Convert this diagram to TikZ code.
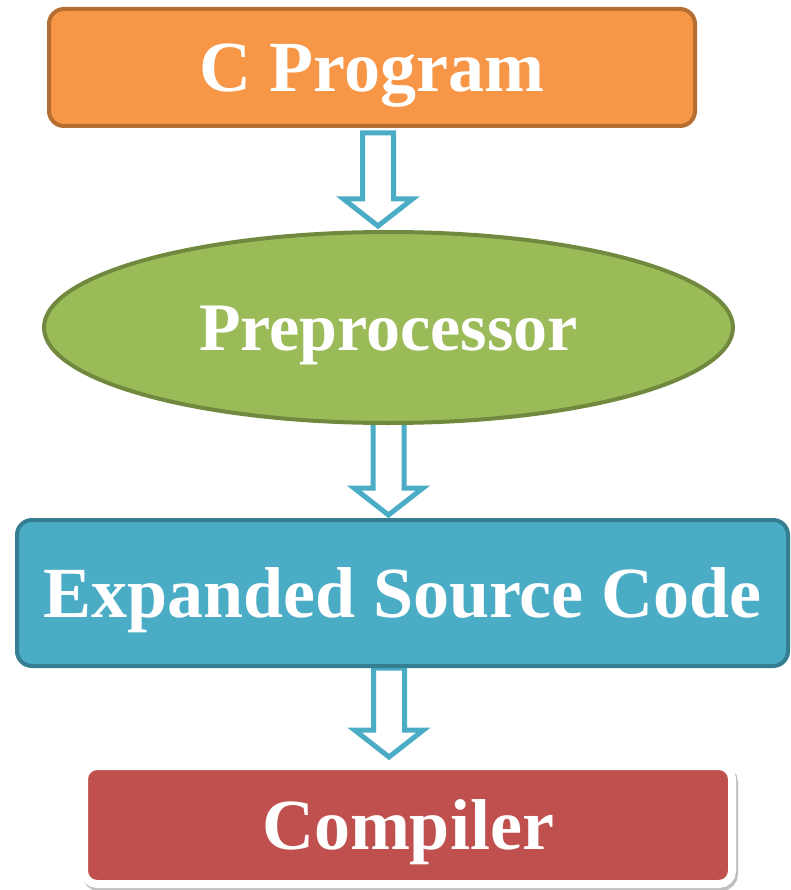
\documentclass[tikz,border=0pt]{standalone}
\usepackage{fontspec}
\setmainfont{Liberation Serif}
\usetikzlibrary{calc,positioning,shapes.geometric,shadows,backgrounds}

\definecolor{progfill}{HTML}{F79646}
\definecolor{progline}{HTML}{B66D31}
\definecolor{prefill}{HTML}{9BBB59}
\definecolor{preline}{HTML}{71893F}
\definecolor{expfill}{HTML}{4BACC6}
\definecolor{expline}{HTML}{357D91}
\definecolor{compfill}{HTML}{C0504D}
\definecolor{arrowblue}{HTML}{4BACC6}

\tikzset{
    hollow/.style={draw=arrowblue, line width=5pt, fill=white, line join=miter,
        to path={($(\tikztostart -| \tikztotarget)+(-15.5,#1)$)
            -- ($(\tikztotarget)+(-15.5,-27)$) -- ($(\tikztotarget)+(-34.5,-27)$)
            -- (\tikztotarget)
            -- ($(\tikztotarget)+(34.5,-27)$) -- ($(\tikztotarget)+(15.5,-27)$)
            -- ($(\tikztostart -| \tikztotarget)+(15.5,#1)$) -- cycle}},
    hollow/.default=0
}

\begin{document}
\begin{tikzpicture}[x=1pt,y=-1pt]
    \useasboundingbox (0,0) rectangle (790,890);

        % the four steps, use the tuple for location
        \begin{scope}[every node/.style={text=white, inner sep=0pt, line width=4pt,
                font=\bfseries\fontsize{72}{80}\selectfont, text height=48pt, text depth=0pt}]
        \node[draw=progline, fill=progfill, rounded corners=15pt,
              minimum width=646pt, minimum height=117pt] (prog) at (372,67.5) {C Program};
        \node[ellipse, draw=preline, fill=prefill, minimum width=689pt, minimum height=191pt,
              font=\bfseries\fontsize{68}{76}\selectfont, text height=45pt] (pre) at (388.5,327.5) {Preprocessor};
        \node[draw=expline, fill=expfill, rounded corners=15pt,
              minimum width=771pt, minimum height=146pt] (exp) at (402.5,593) {Expanded Source Code};
        \node[draw=white, line width=8pt, fill=compfill, rounded corners=13pt,
              minimum width=648pt, minimum height=118pt,
              drop shadow={shadow xshift=2pt, shadow yshift=-3pt, opacity=.25, draw=black, line width=8pt}]
              (comp) at (408,825) {Compiler};
        \end{scope}

        % arrow tips
        \coordinate (tip1) at (378,226);
        \coordinate (tip2) at (388.5,515);
        \coordinate (tip3) at (389,757);

        % hollow arrows, behind the steps
        \begin{scope}[on background layer]
        \path (prog.south) edge[hollow=5] (tip1);
        \path (pre.south) edge[hollow=-3] (tip2);
        \path (exp.south) edge[hollow] (tip3);
        \end{scope}

\end{tikzpicture}
\end{document}
